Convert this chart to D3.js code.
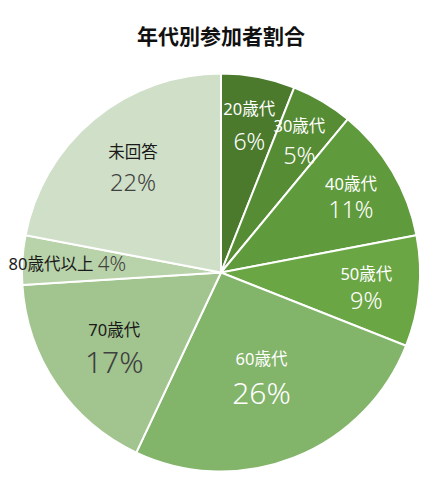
<!DOCTYPE html>
<html>
<head>
<meta charset="utf-8">
<script src="https://cdn.jsdelivr.net/npm/d3@7"></script>
<style>
  body { margin: 0; background: #fff; }
  text { font-family: "Noto Sans", "Noto Sans CJK JP", sans-serif; }
</style>
</head>
<body>
<script>
// data
const title = "年代別参加者割合";
const categories = ["20歳代", "30歳代", "40歳代", "50歳代", "60歳代", "70歳代", "80歳代以上", "未回答"];
const shares = [6, 5, 11, 9, 26, 17, 4, 22];

// look of each slice (kept apart from the data)
const sliceColors = ["#4b7a2d", "#568c34", "#5f9b3c", "#6aa644", "#82b46a", "#a2c48f", "#b8d2a9", "#d0e0c8"];
const labelRadius = [151, 154, 151, 146, 110, 129, 154, 138];
const lineGap = [32, 28, 25, 26, 33, 31, 0, 30];
const pctSize = [23, 23.5, 23, 23.5, 30, 30, 20.5, 23.5];
const darkText = [false, false, false, false, false, true, true, true];

const width = 436, height = 485;
const cx = 221, cy = 272.5, radius = 199;

const svg = d3.select("body")
    .append("svg")
    .attr("width", width)
    .attr("height", height);

svg.append("text")
    .attr("x", cx)
    .attr("y", 35.5)
    .attr("text-anchor", "middle")
    .attr("dominant-baseline", "central")
    .attr("font-size", 21)
    .attr("font-weight", "bold")
    .attr("fill", "#111")
    .text(title);

const rows = categories.map((c, i) => ({ name: c, value: shares[i], i: i }));

const pie = d3.pie()
    .sort(null)
    .value(d => d.value);

const arcs = pie(rows);

const arc = d3.arc()
    .innerRadius(0)
    .outerRadius(radius);

const g = svg.append("g")
    .attr("transform", `translate(${cx},${cy})`);

g.selectAll("path")
    .data(arcs)
    .enter()
    .append("path")
    .attr("d", arc)
    .attr("fill", d => sliceColors[d.data.i])
    .attr("stroke", "#fff")
    .attr("stroke-width", 2);

// labels
arcs.forEach(d => {
    const i = d.data.i;
    const r = labelRadius[i];
    const pos = d3.arc().innerRadius(r).outerRadius(r).centroid(d);
    const nameFill = darkText[i] ? "#1a1a1a" : "#fff";
    const pctFill = darkText[i] ? "#404040" : "#fff";
    const lab = g.append("g").attr("transform", `translate(${pos[0]},${pos[1]})`);

    if (lineGap[i] === 0) {
        // single line label
        const t = lab.append("text")
            .attr("text-anchor", "middle")
            .attr("dominant-baseline", "central");
        t.append("tspan")
            .attr("font-size", 16.5)
            .attr("fill", nameFill)
            .text(d.data.name + " ");
        t.append("tspan")
            .attr("font-size", pctSize[i])
            .attr("fill", pctFill)
            .attr("font-weight", 300)
            .text(d.data.value + "%");
    } else {
        lab.append("text")
            .attr("y", -lineGap[i] / 2)
            .attr("text-anchor", "middle")
            .attr("dominant-baseline", "central")
            .attr("font-size", 16.5)
            .attr("fill", nameFill)
            .text(d.data.name);
        lab.append("text")
            .attr("y", lineGap[i] / 2 + 1)
            .attr("text-anchor", "middle")
            .attr("dominant-baseline", "central")
            .attr("font-size", pctSize[i])
            .attr("font-weight", 300)
            .attr("fill", pctFill)
            .text(d.data.value + "%");
    }
});
</script>
</body>
</html>
